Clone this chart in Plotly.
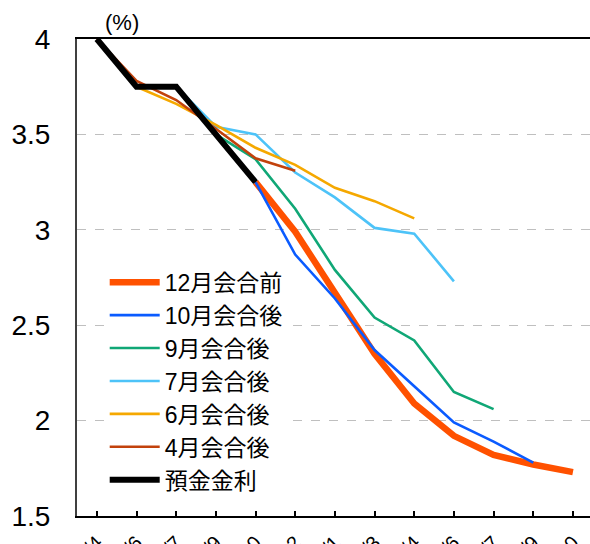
import plotly.graph_objects as go

categories = ["2024/4", "2024/6", "2024/7", "2024/9", "2024/10", "2024/12",
              "2025/1", "2025/3", "2025/4", "2025/6", "2025/7", "2025/9", "2025/10"]

dec_before = [None, None, None, None, 3.25, 2.99, 2.67, 2.35, 2.09, 1.92, 1.82, 1.77, 1.73]
oct_after = [None, None, None, None, 3.25, 2.87, 2.64, 2.37, 2.18, 1.99, 1.89, 1.78, None]
sep_after = [None, None, None, 3.50, 3.37, 3.11, 2.79, 2.54, 2.42, 2.15, 2.06, None, None]
jul_after = [None, None, 3.75, 3.54, 3.50, 3.30, 3.17, 3.01, 2.98, 2.73, None, None, None]
jun_after = [None, 3.75, 3.66, 3.55, 3.43, 3.34, 3.22, 3.15, 3.06, None, None, None, None]
apr_after = [4.00, 3.78, 3.68, 3.53, 3.375, 3.31, None, None, None, None, None, None, None]
deposit = [4.00, 3.75, 3.75, 3.50, 3.25, None, None, None, None, None, None, None, None]

series_names = ["12月会合前", "10月会合後", "9月会合後", "7月会合後", "6月会合後", "4月会合後", "預金金利"]
series_values = [dec_before, oct_after, sep_after, jul_after, jun_after, apr_after, deposit]
series_colors = ["#FF5100", "#0A5BFF", "#10A776", "#4DC3F8", "#F5A800", "#C2420C", "#000000"]
series_widths = [6.5, 2.6, 2.6, 2.6, 2.6, 2.6, 6]

y_ticks = [1.5, 2, 2.5, 3, 3.5, 4]
y_ticktext = ["1.5", "2", "2.5", "3", "3.5", "4"]

FONT = "Liberation Sans, Arial, Noto Sans CJK JP, sans-serif"

fig = go.Figure()
for name, vals, col, w in zip(series_names, series_values, series_colors, series_widths):
    fig.add_trace(go.Scatter(
        x=list(range(len(categories))), y=vals, name=name, mode="lines",
        line=dict(color=col, width=w), connectgaps=False,
    ))

fig.update_layout(
    width=590, height=544,
    margin=dict(l=77, r=0, t=39, b=28),
    paper_bgcolor="white", plot_bgcolor="white",
    font=dict(family=FONT, color="black"),
    showlegend=True,
    legend=dict(
        x=0.054, y=0.535, xanchor="left", yanchor="top",
        bgcolor="white", borderwidth=0,
        font=dict(size=23, family=FONT, color="black"),
        itemwidth=50, tracegroupgap=0,
    ),
    annotations=[dict(
        text="(%)", xref="paper", yref="paper", x=0.05, y=1.0,
        xanchor="left", yanchor="bottom", showarrow=False, yshift=2,
        font=dict(size=22, family=FONT, color="black"),
    )],
)

fig.update_xaxes(
    range=[-0.5, 12.43], autorange=False,
    tickmode="array", tickvals=list(range(len(categories))), ticktext=categories,
    tickson="boundaries", ticks="inside", ticklen=5, tickwidth=1.5, tickcolor="black",
    showline=True, linecolor="black", linewidth=2, mirror=True,
    showgrid=False, zeroline=False, tickangle=-45, automargin=False,
    ticklabelstandoff=5,
    tickfont=dict(size=20, family=FONT, color="black"),
)
fig.update_yaxes(
    range=[1.5, 4], autorange=False,
    tickmode="array", tickvals=y_ticks, ticktext=y_ticktext,
    showline=True, linecolor="#404040", linewidth=2,
    showgrid=True, gridcolor="#BFBFBF", griddash="dash", gridwidth=1,
    zeroline=False, ticks="", ticklabelstandoff=19, automargin=False,
    tickfont=dict(size=28, family=FONT, color="black"),
)

fig.write_html(
    "out.html",
    config={"displayModeBar": False},
    post_script="document.body.style.margin='0';document.body.style.overflow='hidden';",
)
